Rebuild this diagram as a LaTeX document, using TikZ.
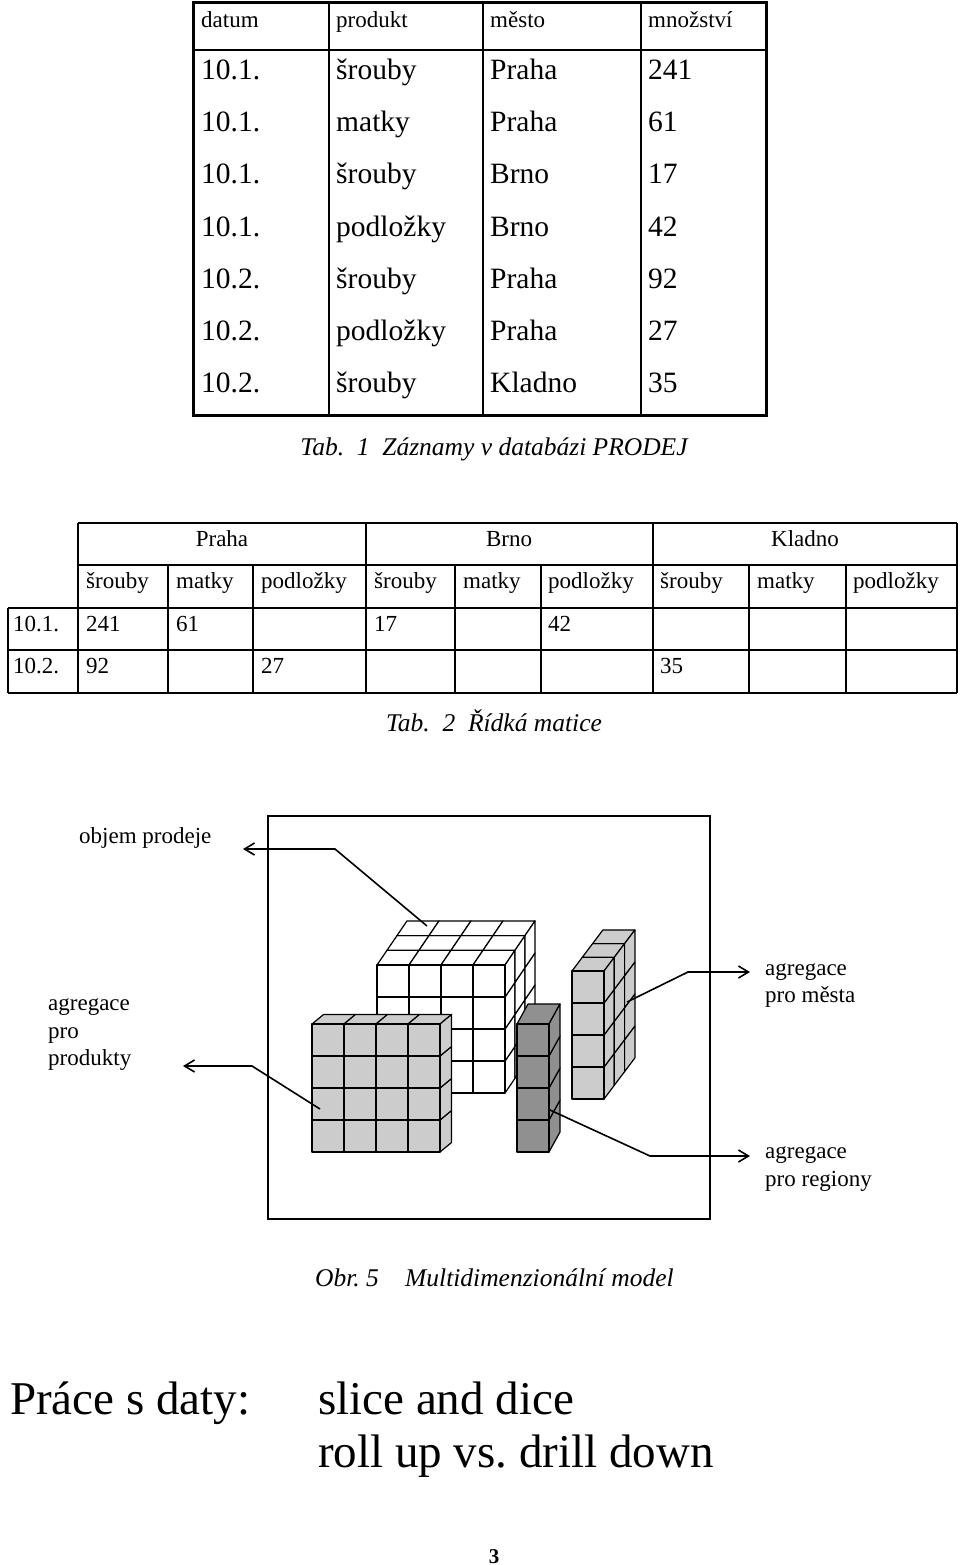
\documentclass[tikz,border=0pt]{standalone}
\usepackage{fontspec}
\setmainfont{Liberation Serif}
\usetikzlibrary{arrows.meta,positioning}
\frenchspacing

\newcommand{\fs}[1]{\fontsize{#1}{#1}\selectfont}
\definecolor{slabgray}{RGB}{204,204,204}
\definecolor{rowgray}{RGB}{144,144,144}

% one block of cells: front bottom-left, cols, rows, layers, layer shift, fill
\newcommand{\olapbox}[8]{%
  \pgfmathtruncatemacro\nxa{#3-1}
  \pgfmathtruncatemacro\nya{#4-1}
  \pgfmathtruncatemacro\nza{#5-1}
  \foreach \i in {0,...,\nxa}{\foreach \k in {0,...,\nza}{
    \filldraw[cubeline, fill=#8] ({#1+32*\i+(#6)*\k},{#2-32*#4+(#7)*\k}) -- ++(32,0) -- ++(#6,#7) -- ++(-32,0) -- cycle;}}
  \foreach \k in {0,...,\nza}{\foreach \j in {0,...,\nya}{
    \filldraw[cubeline, fill=#8] ({#1+32*#3+(#6)*\k},{#2-32*\j+(#7)*\k}) -- ++(0,-32) -- ++(#6,#7) -- ++(0,32) -- cycle;}}
  \foreach \i in {0,...,\nxa}{\foreach \j in {0,...,\nya}{
    \filldraw[cubeline, fill=#8] ({#1+32*\i},{#2-32*\j}) rectangle ++(32,-32);}}
}

\tikzset{
  t1head/.style={anchor=base west, inner sep=0pt, font=\fs{23}},
  t1cell/.style={anchor=base west, inner sep=0pt, font=\fs{29.5}},
  t2cell/.style={anchor=base west, inner sep=0pt, font=\fs{23}},
  t2city/.style={anchor=base, inner sep=0pt, font=\fs{23}},
  capt/.style={anchor=base, inner sep=0pt, font=\fs{25.5}\itshape},
  lbl/.style={anchor=base west, inner sep=0pt, font=\fs{23}},
  big/.style={anchor=base west, inner sep=0pt, font=\fs{47}},
  gridline/.style={line width=1.4pt},
  cubeline/.style={line width=1.2pt, line join=round},
  callout/.style={line width=1.6pt, -{Straight Barb[length=10pt,width=12pt]}}
}

\begin{document}
\begin{tikzpicture}[x=1pt, y=-1pt]
\useasboundingbox (0,0) rectangle (960,1565);

% Tab. 1
\draw[line width=3pt] (193,3) rectangle (766,415);
\draw[gridline] (193,50) -- (766,50);
\foreach \cx in {329,483,641} \draw[gridline] (\cx,3) -- (\cx,415);
\node[t1head] (hdat) at (201,28) {datum};
\node[t1head] (hprod) at (336,28) {produkt};
\node[t1head] (hcity) at (490,28) {město};
\node[t1head] (hqty) at (648,28) {množství};
\foreach \d/\p/\m/\q [count=\r] in {10.1./šrouby/Praha/241, 10.1./matky/Praha/61,
    10.1./šrouby/Brno/17, 10.1./podložky/Brno/42, 10.2./šrouby/Praha/92,
    10.2./podložky/Praha/27, 10.2./šrouby/Kladno/35}{
  \node[t1cell] (dat\r) at (201,{28+52*\r}) {\d};
  \node[t1cell] (prod\r) at (336,{28+52*\r}) {\p};
  \node[t1cell] (city\r) at (490,{28+52*\r}) {\m};
  \node[t1cell] (qty\r) at (648,{28+52*\r}) {\q};
}
\node[capt] (cap1) at (494,455) {Tab.\ \ 1\ \ Záznamy v databázi PRODEJ};

% Tab. 2
\draw[gridline] (78,523) -- (957,523);
\draw[gridline] (78,565) -- (957,565);
\foreach \ry in {608,650,693} \draw[gridline] (8,\ry) -- (957,\ry);
\draw[gridline] (8,608) -- (8,693);
\foreach \cx in {78,366,653,957} \draw[gridline] (\cx,523) -- (\cx,693);
\foreach \cx in {168,253,455,541,749,846} \draw[gridline] (\cx,565) -- (\cx,693);
\node[t2city] (praha) at (222,546) {Praha};
\node[t2city] (brno) at (509,546) {Brno};
\node[t2city] (kladno) at (805,546) {Kladno};
\foreach \cx/\p [count=\c] in {86/šrouby, 176/matky, 261/podložky, 374/šrouby, 463/matky,
    548/podložky, 660/šrouby, 757/matky, 853/podložky}
  \node[t2cell] (item\c) at (\cx,588) {\p};
\node[t2cell] (day1) at (13,631) {10.1.};
\node[t2cell] (day2) at (13,673) {10.2.};
\node[t2cell] (v1) at (86,631) {241};
\node[t2cell] (v2) at (176,631) {61};
\node[t2cell] (v3) at (374,631) {17};
\node[t2cell] (v4) at (548,631) {42};
\node[t2cell] (v5) at (86,673) {92};
\node[t2cell] (v6) at (261,673) {27};
\node[t2cell] (v7) at (660,673) {35};
\node[capt] (cap2) at (494,731) {Tab.\ \ 2\ \ Řídká matice};

% Obr. 5
\draw[line width=1.5pt] (268,816) rectangle (710,1219);
\olapbox{377}{1093}{4}{4}{3}{10}{-14.7}{white}
\olapbox{517}{1152}{1}{4}{1}{11}{-20}{rowgray}
\olapbox{312}{1152}{4}{4}{1}{11.5}{-9.5}{slabgray}
\olapbox{572}{1099}{1}{4}{3}{10.3}{-13.7}{slabgray}

\node[lbl] (volume) at (79,843) {objem prodeje};
\node[lbl] (prodA) at (48,1010) {agregace};
\node[lbl] (prodB) at (48,1038) {pro};
\node[lbl] (prodC) at (48,1065) {produkty};
\node[lbl] (cityA) at (765,975) {agregace};
\node[lbl] (cityB) at (765,1002) {pro města};
\node[lbl] (regA) at (765,1158) {agregace};
\node[lbl] (regB) at (765,1186) {pro regiony};

\coordinate (volpt) at (427,926);
\coordinate (volbend) at (335,849);
\coordinate (voltip) at (243,849);
\coordinate (prodpt) at (320,1109);
\coordinate (prodbend) at (252,1066);
\coordinate (prodtip) at (183,1066);
\coordinate (citypt) at (627,1002);
\coordinate (citybend) at (688,972);
\coordinate (citytip) at (750,972);
\coordinate (regpt) at (550,1110);
\coordinate (regbend) at (650,1156);
\coordinate (regtip) at (750,1156);
\draw[callout] (volpt) -- (volbend) -- (voltip);
\draw[callout] (prodpt) -- (prodbend) -- (prodtip);
\draw[callout] (citypt) -- (citybend) -- (citytip);
\draw[callout] (regpt) -- (regbend) -- (regtip);

\node[capt, anchor=base west] (fig) at (315,1286) {Obr. 5};
\node[capt, anchor=base west] (figname) at (405,1286) {Multidimenzionální model};

% Práce s daty
\node[big] (work) at (10,1414) {Práce s daty:};
\node[big] (slice) at (318,1414) {slice and dice};
\node[big] (roll) at (318,1467) {roll up vs. drill down};
\node[anchor=base, inner sep=0pt, font=\fs{21}\bfseries] (page) at (494,1563) {3};
\end{tikzpicture}
\end{document}
